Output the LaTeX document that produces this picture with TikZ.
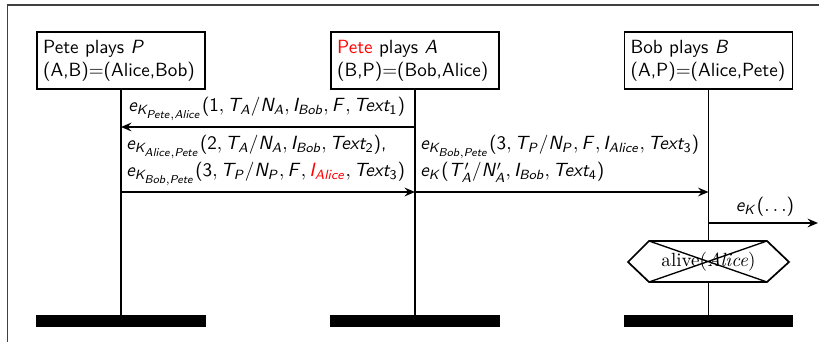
\documentclass[tikz,border=0pt]{standalone}
\usetikzlibrary{arrows.meta}
% sans-serif math: slanted sans letters, upright sans digits and delimiters
\DeclareSymbolFont{sfitalic}{OT1}{cmss}{m}{sl}
\SetSymbolFont{operators}{normal}{OT1}{cmss}{m}{n}
\DeclareMathSizes{10}{10}{7.4}{5.8}
\newcount\lettercode
\newcommand\sfmathletters[2]{%
  \lettercode=`#1\relax
  \loop
    \mathcode\lettercode=\numexpr"7000+"100*\symsfitalic+\lettercode\relax
  \ifnum\lettercode<`#2\relax
    \advance\lettercode by 1
  \repeat}
\sfmathletters az
\sfmathletters AZ
\begin{document}
\begin{tikzpicture}[x=0.5236pt,y=-0.5236pt,
  font=\sffamily,
  role/.style={draw, line width=0.9pt, align=left, text width=81.5pt,
    inner xsep=3.3pt, inner ysep=3.5pt, minimum height=29.8pt},
  lifeend/.style={fill=black, inner sep=0pt, minimum width=89pt, minimum height=6.3pt},
  life/.style={line width=0.9pt},
  msg/.style={line width=0.9pt, -{Stealth[length=5.5pt,width=4.6pt,inset=2pt]}},
  lbl/.style={inner sep=0pt},
  frame/.style={line width=0.8pt, draw=black!75},
  cond/.style={draw, fill=white, line width=0.9pt},
  strike/.style={line width=0.7pt}]
\useasboundingbox (0,0) rectangle (819,342);
\clip (0,0) rectangle (819,342);

% enclosing frame (continues past the right and bottom edges)
\draw[frame] (7.5,5) rectangle (860,380);

% role boxes
\node[role] (pete)  at (121,60.5)   {Pete plays $P$\\(A,B)=(Alice,Bob)};
\node[role] (alice) at (415,60.5)   {\textcolor{red}{Pete} plays $A$\\(B,P)=(Bob,Alice)};
\node[role] (bob)   at (708.5,60.5) {Bob plays $B$\\(A,P)=(Alice,Pete)};

% lifeline ends
\node[lifeend] (peteend)  at (121,321)   {};
\node[lifeend] (aliceend) at (415,321)   {};
\node[lifeend] (bobend)   at (708.5,321) {};

% lifelines
\draw[life] (pete.south)  -- (peteend.north);
\draw[life] (alice.south) -- (aliceend.north);
\draw[life] (bob.south)   -- (bobend.north);

% message 1
\coordinate (a1) at (415,127);
\coordinate (p1) at (121,127);
\draw[msg] (a1) -- (p1);
\node[lbl, anchor=base west] (t1) at (128,112)
  {$e_{K_{Pete,Alice}}(1, T_A/N_A, I_{Bob}, F, Text_1)$};

% message 2
\coordinate (p2) at (121,192);
\coordinate (a2) at (415,192);
\draw[msg] (p2) -- (a2);
\node[lbl, anchor=base west] (t2a) at (126,150)
  {$e_{K_{Alice,Pete}}(2, T_A/N_A, I_{Bob}, Text_2)$,};
\node[lbl, anchor=base west] (t2b) at (126,177)
  {$e_{K_{Bob,Pete}}(3, T_P/N_P, F, {\color{red}I_{Alice}}, Text_3)$};

% message 3
\coordinate (a3) at (415,192);
\coordinate (b3) at (708.5,192);
\draw[msg] (a3) -- (b3);
\node[lbl, anchor=base west] (t3a) at (420,150)
  {$e_{K_{Bob,Pete}}(3, T_P/N_P, F, I_{Alice}, Text_3)$};
\node[lbl, anchor=base west] (t3b) at (420,177)
  {$e_K(T'_A/N'_A, I_{Bob}, Text_4)$};

% message 4
\coordinate (b4) at (708.5,223);
\coordinate (out) at (818,223);
\draw[msg] (b4) -- (out);
\node[lbl, anchor=base] (t4) at (765,212) {$e_K(\dots)$};

% crossed-out condition on Bob's lifeline
\path[cond] (628,262) -- (649,241) -- (767,241) -- (789,262)
  -- (767,282) -- (649,282) -- cycle;
\node[lbl] (alive) at (708.5,262) {\rmfamily alive(\textit{Alice})};
\draw[strike] (649,241) -- (767,282) (649,282) -- (767,241);
\end{tikzpicture}
\end{document}
